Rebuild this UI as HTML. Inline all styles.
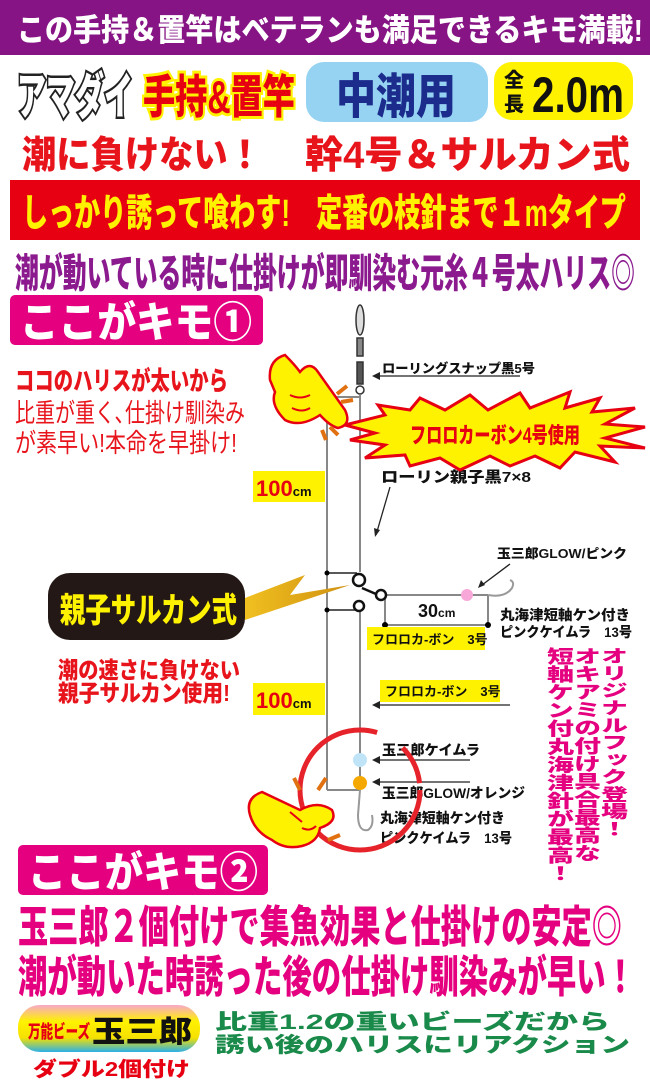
<!DOCTYPE html>
<html><head><meta charset="utf-8"><style>
html,body{margin:0;padding:0;background:#fff;width:650px;height:1080px;overflow:hidden}
svg{display:block}
text{font-family:"Liberation Sans","Noto Sans CJK JP",sans-serif;font-weight:900}
</style></head><body>
<svg width="650" height="1080" viewBox="0 0 650 1080" xmlns="http://www.w3.org/2000/svg">
<defs>
<linearGradient id="rb" x1="0" y1="0" x2="0" y2="1">
<stop offset="0" stop-color="#f7a8c8"/><stop offset="0.35" stop-color="#fff200"/><stop offset="0.7" stop-color="#f5e000"/><stop offset="1" stop-color="#2ab0e8"/></linearGradient>
<linearGradient id="lt" x1="0" y1="0" x2="1" y2="0"><stop offset="0" stop-color="#f0c020"/><stop offset="1" stop-color="#d09010"/></linearGradient>
</defs>
<rect x="0" y="0" width="650" height="55" fill="#861484"/>
<text x="17" y="41" font-size="31" fill="#fff" textLength="626" lengthAdjust="spacingAndGlyphs">この手持＆置竿はベテランも満足できるキモ満載!</text>
<text x="17" y="114" font-size="50" fill="#fff" stroke="#222" stroke-width="5" paint-order="stroke" textLength="116" lengthAdjust="spacingAndGlyphs">アマダイ</text>
<text x="143" y="113" font-size="46" fill="#e60012" stroke="#fff200" stroke-width="6" paint-order="stroke" textLength="152" lengthAdjust="spacingAndGlyphs">手持&amp;置竿</text>
<rect x="306" y="62" width="182" height="60" rx="18" fill="#96d3f2"/>
<text x="336" y="113" font-size="48" fill="#1b2c8c" textLength="120" lengthAdjust="spacingAndGlyphs">中潮用</text>
<rect x="494" y="62" width="139" height="58" rx="18" fill="#fff200"/>
<text x="504" y="87" font-size="20" fill="#111">全</text>
<text x="504" y="111" font-size="20" fill="#111">長</text>
<text x="532" y="112" font-size="50" fill="#111" textLength="92" lengthAdjust="spacingAndGlyphs">2.0m</text>
<text x="22" y="168" font-size="38" fill="#e8141c" textLength="240" lengthAdjust="spacingAndGlyphs">潮に負けない！</text>
<text x="305" y="168" font-size="38" fill="#e8141c" textLength="325" lengthAdjust="spacingAndGlyphs">幹4号＆サルカン式</text>
<rect x="10" y="180" width="630" height="60" fill="#e60012"/>
<text x="22" y="226" font-size="38" fill="#fff200" textLength="604" lengthAdjust="spacingAndGlyphs">しっかり誘って喰わす!　定番の枝針まで１mタイプ</text>
<text x="15" y="287" font-size="40" fill="#8b1a8e" textLength="620" lengthAdjust="spacingAndGlyphs">潮が動いている時に仕掛けが即馴染む元糸４号太ハリス◎</text>
<rect x="10" y="295" width="253" height="50" rx="5" fill="#e4007f"/>
<text x="20" y="337" font-size="42" fill="#fff" textLength="232" lengthAdjust="spacingAndGlyphs">ここがキモ①</text>
<text x="15" y="390" font-size="26" fill="#e8141c" textLength="213" lengthAdjust="spacingAndGlyphs">ココのハリスが太いから</text>
<text x="15" y="422" font-size="26" fill="#e8141c" style="font-weight:400" textLength="230" lengthAdjust="spacingAndGlyphs">比重が重く､仕掛け馴染み</text>
<text x="15" y="452" font-size="26" fill="#e8141c" style="font-weight:400" textLength="222" lengthAdjust="spacingAndGlyphs">が素早い!本命を早掛け!</text>
<g stroke="#888" stroke-width="2" fill="none">
<line x1="360" y1="395" x2="360" y2="572"/>
<line x1="327" y1="397" x2="360" y2="397"/>
<line x1="327" y1="397" x2="327" y2="790"/>
<line x1="360" y1="610" x2="360" y2="790"/>
<line x1="327" y1="790" x2="360" y2="790"/>
<line x1="385" y1="595" x2="488" y2="595"/>
<line x1="385" y1="595" x2="385" y2="625"/>
<line x1="488" y1="595" x2="488" y2="625"/>
<line x1="385" y1="625" x2="488" y2="625"/>
</g>
<g stroke="#222" stroke-width="1.5">
<line x1="327" y1="573" x2="357" y2="573"/><line x1="327" y1="610" x2="357" y2="610"/>
</g>
<circle cx="327" cy="573" r="2.5"/><circle cx="327" cy="610" r="2.5"/>
<circle cx="385" cy="625" r="3"/><circle cx="488" cy="625" r="3"/>
<g stroke="#333" stroke-width="1.5" fill="#ddd">
<ellipse cx="360" cy="320" rx="4" ry="15"/>
<rect x="357" y="338" width="6" height="18" fill="#888"/>
<rect x="357" y="362" width="6" height="22" fill="#555"/>
<circle cx="360" cy="390" r="4" fill="#fff"/>
</g>
<g stroke="#111" stroke-width="2.5" fill="#fff">
<circle cx="359" cy="580" r="6"/><circle cx="359" cy="606" r="5"/><circle cx="381" cy="595" r="5"/>
<line x1="362" y1="588" x2="376" y2="594"/>
</g>
<circle cx="467" cy="595" r="6" fill="#f8a8d8"/>
<path d="M488 595 Q505 598 512 588 Q515 582 510 580" stroke="#999" stroke-width="2" fill="none"/>
<g stroke="#222" stroke-width="1.3" fill="none">
<line x1="520" y1="376" x2="375" y2="376"/>
<line x1="390" y1="487" x2="376" y2="535"/>
<line x1="510" y1="564" x2="482" y2="585"/>
<line x1="510" y1="705" x2="374" y2="705"/>
<line x1="470" y1="760" x2="374" y2="760"/>
<line x1="470" y1="782" x2="374" y2="782"/>
</g>
<g fill="#222">
<path d="M372 376 l8 -4 v8z"/><path d="M375 537 l-1 -9 l6 2z"/><path d="M478 588 l3 -8 l4 5z"/>
<path d="M372 705 l8 -4 v8z"/><path d="M372 760 l8 -4 v8z"/><path d="M372 782 l8 -4 v8z"/>
</g>
<g font-size="13" fill="#111" style="font-weight:700">
<text x="382" y="373" textLength="153" lengthAdjust="spacingAndGlyphs">ローリングスナップ黒5号</text>
<text x="381" y="482" font-size="15" textLength="150" lengthAdjust="spacingAndGlyphs">ローリン親子黒7×8</text>
<text x="497" y="558" textLength="130" lengthAdjust="spacingAndGlyphs">玉三郎GLOW/ピンク</text>
<text x="500" y="620" font-size="14" textLength="130" lengthAdjust="spacingAndGlyphs">丸海津短軸ケン付き</text>
<text x="500" y="637" font-size="14" textLength="132" lengthAdjust="spacingAndGlyphs">ピンクケイムラ　13号</text>
<text x="382" y="755" font-size="14" textLength="98" lengthAdjust="spacingAndGlyphs">玉三郎ケイムラ</text>
<text x="382" y="798" font-size="14" textLength="143" lengthAdjust="spacingAndGlyphs">玉三郎GLOW/オレンジ</text>
<text x="380" y="823" font-size="14" textLength="125" lengthAdjust="spacingAndGlyphs">丸海津短軸ケン付き</text>
<text x="380" y="843" font-size="14" textLength="132" lengthAdjust="spacingAndGlyphs">ピンクケイムラ　13号</text>
</g>
<text x="418" y="617" font-size="18" fill="#111" style="font-weight:700">30<tspan font-size="12">cm</tspan></text>
<rect x="367" y="627" width="118" height="23" fill="#fff200"/>
<text x="372" y="644" font-size="13" fill="#111" style="font-weight:700">フロロカ-ボン　3号</text>
<rect x="380" y="680" width="120" height="22" fill="#fff200"/>
<text x="385" y="696" font-size="13" fill="#111" style="font-weight:700">フロロカ-ボン　3号</text>
<rect x="253" y="471" width="72" height="31" fill="#fff200"/>
<text x="256" y="496" font-size="22" fill="#e60012" style="font-weight:700">100<tspan font-size="13" fill="#111">cm</tspan></text>
<rect x="253" y="683" width="72" height="32" fill="#fff200"/>
<text x="256" y="708" font-size="22" fill="#e60012" style="font-weight:700">100<tspan font-size="13" fill="#111">cm</tspan></text>
<circle cx="360" cy="760" r="7" fill="#bfe4f8"/>
<circle cx="360" cy="783" r="7" fill="#f5a800"/>
<path d="M360 790 L358 815 Q358 832 368 830 Q374 826 372 815" stroke="#999" stroke-width="2" fill="none"/>
<polygon points="345,425 385,415 378,405 410,410 420,398 445,410 470,395 488,410 520,393 530,408 570,392 565,408 600,398 592,412 635,408 605,424 645,427 605,438 645,448 600,446 615,462 575,452 560,468 535,456 510,466 490,456 460,470 440,458 410,466 405,455 365,458 385,445 350,440 375,433"
 fill="#fff200" stroke="#e60012" stroke-width="3" stroke-linejoin="miter"/>
<text x="410" y="443" font-size="22" fill="#e60012" textLength="170" lengthAdjust="spacingAndGlyphs">フロロカーボン4号使用</text>
<path d="M270 380 Q268 360 285 355 Q295 365 300 372 Q310 360 318 372 L345 410 Q352 425 338 428 Q330 426 320 415 Q300 428 285 420 Q270 405 275 392 Z" fill="#fff200" stroke="#e60012" stroke-width="2.5"/>
<path d="M290 395 q10 5 20 0 M292 408 q10 5 18 0" stroke="#e60012" stroke-width="2" fill="none"/>
<path d="M337 394 l10 -8 M341 402 l12 -2 M322 430 l4 10 M330 427 l8 8" stroke="#e07010" stroke-width="4"/>
<polygon points="245,598 305,575 290,595 350,585 245,620" fill="url(#lt)"/>
<rect x="48" y="573" width="197" height="67" rx="22" fill="#231815"/>
<text x="60" y="622" font-size="34" fill="#fff200" textLength="177" lengthAdjust="spacingAndGlyphs">親子サルカン式</text>
<text x="58" y="678" font-size="23" fill="#e8141c" textLength="182" lengthAdjust="spacingAndGlyphs">潮の速さに負けない</text>
<text x="58" y="701" font-size="23" fill="#e8141c" textLength="172" lengthAdjust="spacingAndGlyphs">親子サルカン使用!</text>
<circle cx="360" cy="790" r="60" fill="none" stroke="#e6232a" stroke-width="5" stroke-dasharray="300 30 40 20"/>
<path d="M250 815 Q245 798 262 792 L300 810 Q318 800 332 810 Q338 822 320 828 Q318 842 302 846 Q285 850 272 840 Q255 832 250 815 Z" fill="#fff200" stroke="#e60012" stroke-width="2.5"/>
<path d="M290 812 l12 10 M302 828 q8 4 14 -2" stroke="#e60012" stroke-width="2" fill="none"/>
<path d="M300 790 l-6 -12 M328 840 l12 -5 M318 790 l8 -12" stroke="#e07010" stroke-width="4"/>
<g font-size="27" fill="#e4007f" style="writing-mode:vertical-rl">
<text x="612" y="647" textLength="190" lengthAdjust="spacingAndGlyphs">オリジナルフック登場！</text>
<text x="585" y="647" textLength="215" lengthAdjust="spacingAndGlyphs">オキアミの付け具合最高な</text>
<text x="558" y="647" textLength="235" lengthAdjust="spacingAndGlyphs">短軸ケン付丸海津針が最高！</text>
</g>
<rect x="18" y="845" width="250" height="50" rx="5" fill="#e4007f"/>
<text x="28" y="887" font-size="42" fill="#fff" textLength="230" lengthAdjust="spacingAndGlyphs">ここがキモ②</text>
<text x="18" y="942" font-size="44" fill="#e4007f" textLength="604" lengthAdjust="spacingAndGlyphs">玉三郎２個付けで集魚効果と仕掛けの安定◎</text>
<text x="18" y="992" font-size="44" fill="#e4007f" textLength="617" lengthAdjust="spacingAndGlyphs">潮が動いた時誘った後の仕掛け馴染みが早い！</text>
<rect x="18" y="1005" width="182" height="47" rx="22" fill="url(#rb)"/>
<text x="28" y="1038" font-size="18" fill="#e60012" textLength="62" lengthAdjust="spacingAndGlyphs">万能ビーズ</text>
<text x="92" y="1042" font-size="30" fill="#111" font-family="Noto Serif CJK SC, serif" textLength="100" lengthAdjust="spacingAndGlyphs">玉三郎</text>
<text x="33" y="1076" font-size="20" fill="#e60012" textLength="157" lengthAdjust="spacingAndGlyphs">ダブル2個付け</text>
<text x="215" y="1029" font-size="21" fill="#1a8a4a" textLength="395" lengthAdjust="spacingAndGlyphs">比重1.2の重いビーズだから</text>
<text x="215" y="1052" font-size="21" fill="#1a8a4a" textLength="415" lengthAdjust="spacingAndGlyphs">誘い後のハリスにリアクション</text>
</svg>
</body></html>
